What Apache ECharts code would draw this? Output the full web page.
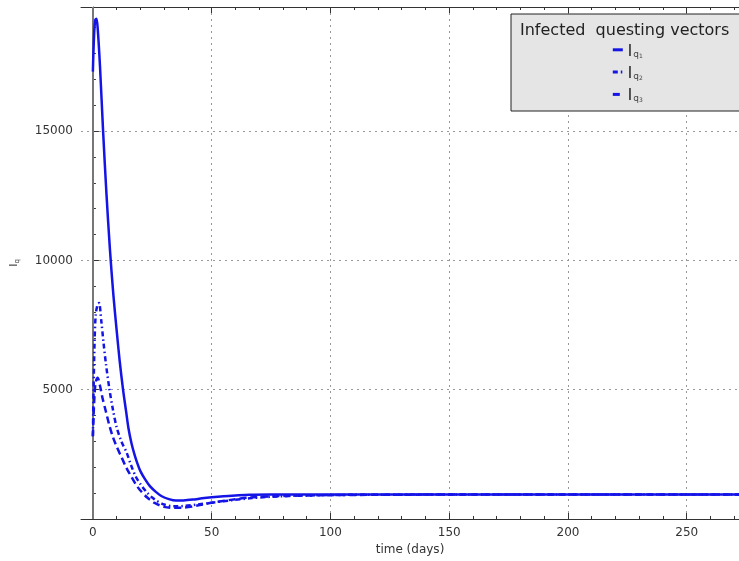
<!DOCTYPE html>
<html><head><meta charset="utf-8">
<script src="https://cdn.jsdelivr.net/npm/echarts@6/dist/echarts.min.js"></script>
<style>html,body{margin:0;padding:0;background:#fff}#c{width:739px;height:561px}</style>
</head><body><div id="c"></div>
<script>
// time (days) and infected questing vector counts
const tIq1 = [0, 0.5, 1, 1.5, 2, 3, 4.3, 5.7, 7.2, 8.6, 10, 11.3, 12.7, 14, 15, 16.2, 17.5, 18.8, 20, 22, 24, 26.5, 29, 32, 35, 38, 42, 46, 50, 55, 60, 66, 75, 90, 120, 160, 200, 240, 272];
const vIq1 = [17300, 18700, 19300, 19350, 19000, 17500, 15000, 12600, 10400, 8700, 7300, 6100, 5000, 4150, 3500, 2950, 2500, 2130, 1850, 1530, 1270, 1050, 880, 770, 714, 718, 750, 800, 840, 880, 910, 940, 950, 952, 950, 950, 950, 950, 950];
const tIq2 = [0, 0.3, 0.7, 1.2, 2, 2.6, 3.5, 4.5, 5.5, 7, 8.5, 10, 12, 14.2, 16, 18, 20, 23, 26, 30, 34, 38, 44, 50, 58, 66, 75, 90, 110, 150, 200, 272];
const vIq2 = [3200, 5000, 6800, 7900, 8300, 8350, 7700, 6800, 6000, 5000, 4200, 3550, 3000, 2570, 2100, 1650, 1350, 1000, 760, 560, 490, 500, 560, 630, 720, 800, 860, 910, 935, 945, 946, 946];
const tIq3 = [0, 0.3, 0.7, 1.2, 2, 3, 4, 5.5, 7, 8.5, 10, 12, 14, 15.5, 18, 20, 23, 26, 30, 34, 38, 44, 50, 58, 66, 75, 90, 110, 150, 200, 272];
const vIq3 = [3200, 4000, 4800, 5300, 5460, 5150, 4700, 4150, 3600, 3150, 2800, 2400, 2000, 1750, 1350, 1100, 820, 620, 470, 432, 440, 520, 625, 740, 830, 875, 910, 930, 945, 946, 946];
const xTicks = [0, 50, 100, 150, 200, 250];
const xMinor = [10, 20, 30, 40, 60, 70, 80, 90, 110, 120, 130, 140, 160, 170, 180, 190, 210, 220, 230, 240, 260, 270];
const yTicks = [5000, 10000, 15000];
const yMinor = [1000, 2000, 3000, 4000, 6000, 7000, 8000, 9000, 11000, 12000, 13000, 14000, 16000, 17000, 18000, 19000];
const seriesNames = ['Iq1', 'Iq2', 'Iq3'];
const legendTitle = 'Infected  questing vectors';

const zip = (t, v) => t.map((x, i) => [x, v[i]]);
const blue = '#1414e6';
const font = 'DejaVu Sans';
const frame = '#333';
const xMin = -5, xMax = 272, yMin = 0, yMax = 19800;

const chart = echarts.init(document.getElementById('c'));
const baseX = {type: 'value', min: xMin, max: xMax, gridIndex: 0};
const baseY = {type: 'value', min: yMin, max: yMax, gridIndex: 0};
chart.setOption({
  animation: false,
  backgroundColor: '#fff',
  grid: {left: 81, right: 0, top: 7, bottom: 41},
  graphic: [
    {type: 'rect', shape: {x: 511, y: 14, width: 240, height: 97}, style: {fill: '#e5e5e5', stroke: '#222', lineWidth: 1}, z: 100},
    {type: 'text', left: 520, top: 23, style: {text: legendTitle, font: '16px "DejaVu Sans"', fill: '#222'}, z: 101}
  ],
  legend: {
    orient: 'vertical', left: 606, top: 38, itemGap: 6, itemWidth: 10, itemHeight: 17, itemSymbolKeepAspect: false, z: 102,
    data: seriesNames,
    itemStyle: {opacity: 0},
    lineStyle: {width: 3},
    formatter: n => '{i|I}{s|q}{ss|' + n.slice(2) + '}',
    textStyle: {
      rich: {
        i: {fontFamily: font, fontSize: 15, color: '#222', verticalAlign: 'bottom'},
        s: {fontFamily: font, fontSize: 9, color: '#444', padding: [9, 0, 0, 1]},
        ss: {fontFamily: font, fontSize: 6, color: '#444', padding: [13, 0, 0, 0]}
      }
    }
  },
  xAxis: [
    Object.assign({}, baseX, {
      position: 'bottom',
      name: 'time (days)', nameLocation: 'middle', nameGap: 25,
      nameTextStyle: {fontFamily: font, fontSize: 12, color: '#333'},
      axisLine: {show: true, lineStyle: {color: frame, width: 1}},
      axisTick: {show: true, inside: true, length: 6, lineStyle: {color: frame}, customValues: xTicks},
      axisLabel: {fontFamily: font, fontSize: 12, color: '#333', margin: 8, customValues: xTicks, formatter: v => String(v)},
      splitLine: {show: true, lineStyle: {color: '#999', type: [2, 4], width: 1}}
    }),
    Object.assign({}, baseX, {
      position: 'bottom',
      axisLine: {show: false},
      axisTick: {show: true, inside: true, length: 3, lineStyle: {color: frame}, customValues: xMinor},
      axisLabel: {show: false}, splitLine: {show: false}
    }),
    Object.assign({}, baseX, {
      position: 'top',
      axisLine: {show: true, lineStyle: {color: frame, width: 1}},
      axisTick: {show: true, inside: true, length: 6, lineStyle: {color: frame}, customValues: xTicks},
      axisLabel: {show: false}, splitLine: {show: false}
    }),
    Object.assign({}, baseX, {
      position: 'top',
      axisLine: {show: false},
      axisTick: {show: true, inside: true, length: 3, lineStyle: {color: frame}, customValues: xMinor},
      axisLabel: {show: false}, splitLine: {show: false}
    })
  ],
  yAxis: [
    Object.assign({}, baseY, {
      position: 'left', interval: 5000,
      name: '{a|I}{b|q}', nameLocation: 'middle', nameGap: 60, nameRotate: 90,
      nameTextStyle: {rich: {a: {fontFamily: font, fontSize: 11, color: '#333'}, b: {fontFamily: font, fontSize: 7, color: '#333', padding: [6, 0, 0, 0]}}},
      axisLine: {show: true, lineStyle: {color: frame, width: 1}},
      axisTick: {show: true, inside: true, length: 6, lineStyle: {color: frame}},
      axisLabel: {fontFamily: font, fontSize: 12, color: '#333', margin: 8, showMinLabel: false, showMaxLabel: false, formatter: v => String(v)},
      splitLine: {show: true, lineStyle: {color: '#999', type: [2, 4], width: 1}}
    }),
    Object.assign({}, baseY, {
      position: 'left',
      axisLine: {show: false},
      axisTick: {show: true, inside: true, length: 3, lineStyle: {color: frame}, customValues: yMinor},
      axisLabel: {show: false}, splitLine: {show: false}
    })
  ],
  series: [
    {name: seriesNames[0], type: 'line', data: zip(tIq1, vIq1), smooth: 0.3, symbol: 'none', z: 5,
     lineStyle: {color: blue, width: 2.5, type: 'solid'}, itemStyle: {color: blue},
     markLine: {silent: true, symbol: 'none', label: {show: false}, lineStyle: {color: '#777', width: 2, type: 'solid'}, data: [{xAxis: 0}], z: 1}},
    {name: seriesNames[1], type: 'line', data: zip(tIq2, vIq2), smooth: 0.3, symbol: 'none', z: 4,
     lineStyle: {color: blue, width: 2.5, type: [5, 3, 1.5, 3]}, itemStyle: {color: blue}},
    {name: seriesNames[2], type: 'line', data: zip(tIq3, vIq3), smooth: 0.3, symbol: 'none', z: 4,
     lineStyle: {color: blue, width: 2.5, type: [7, 4]}, itemStyle: {color: blue}}
  ]
});
</script></body></html>
